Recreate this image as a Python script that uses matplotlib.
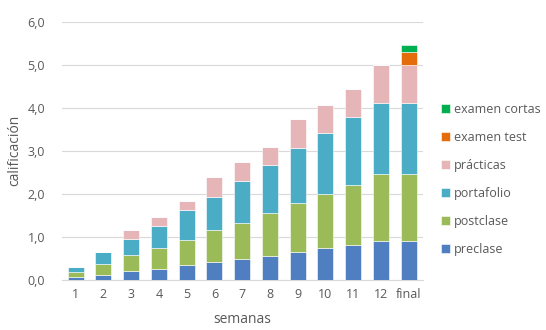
import numpy as np
import matplotlib
matplotlib.use('Agg')
import matplotlib.pyplot as plt

# datos (valores por componente, apilados)
semanas = ['1', '2', '3', '4', '5', '6', '7', '8', '9', '10', '11', '12', 'final']
preclase = [0.06, 0.11, 0.20, 0.26, 0.34, 0.42, 0.48, 0.56, 0.65, 0.74, 0.81, 0.90, 0.90]
postclase = [0.13, 0.25, 0.37, 0.48, 0.59, 0.74, 0.84, 1.00, 1.14, 1.26, 1.39, 1.56, 1.56]
portafolio = [0.12, 0.29, 0.38, 0.52, 0.70, 0.77, 0.98, 1.11, 1.28, 1.42, 1.59, 1.66, 1.66]
practicas = [0.00, 0.00, 0.20, 0.20, 0.20, 0.46, 0.43, 0.42, 0.67, 0.65, 0.65, 0.88, 0.88]
examen_test = [0, 0, 0, 0, 0, 0, 0, 0, 0, 0, 0, 0, 0.30]
examen_cortas = [0, 0, 0, 0, 0, 0, 0, 0, 0, 0, 0, 0, 0.16]

series = [
    ('preclase', preclase, '#4f7fc0'),
    ('postclase', postclase, '#9bbb59'),
    ('portafolio', portafolio, '#4bacc6'),
    ('prácticas', practicas, '#e6b5b7'),
    ('examen test', examen_test, '#e46c0a'),
    ('examen cortas', examen_cortas, '#00b050'),
]

plt.rcParams['font.family'] = ['Open Sans', 'DejaVu Sans']
gris = '#595959'

fig = plt.figure(figsize=(5.46, 3.30), dpi=100)
ax = fig.add_axes([0.113, 0.152, 0.661, 0.782])

x = np.arange(len(semanas))
base = np.zeros(len(semanas))
handles = []
for nombre, vals, color in series:
    vals = np.array(vals)
    b = ax.bar(x, vals, 0.58, bottom=base, color=color, label=nombre,
               edgecolor='white', linewidth=0.4, zorder=3)
    handles.append(b)
    base = base + vals

ax.set_ylim(0, 6)
ax.set_xlim(-0.5, len(semanas) - 0.5)
yt = np.arange(0, 7, 1)
ax.set_yticks(yt)
ax.set_yticklabels([('%.1f' % v).replace('.', ',') for v in yt])
ax.set_xticks(x)
ax.set_xticklabels(semanas)
ax.tick_params(axis='both', length=0, labelsize=9, colors=gris)
ax.tick_params(axis='y', pad=12)
ax.tick_params(axis='x', pad=6)
ax.grid(axis='y', color='#d9d9d9', linewidth=0.8, zorder=0)
for s in ['top', 'right', 'left']:
    ax.spines[s].set_visible(False)
ax.spines['bottom'].set_color('#d9d9d9')

ax.set_xlabel('semanas', fontsize=10, color=gris, labelpad=8)
ax.set_ylabel('calificación', fontsize=10, color=gris, labelpad=4)

leg = ax.legend(handles[::-1], [s[0] for s in series][::-1],
                loc='center left', bbox_to_anchor=(1.02, 0.39), frameon=False,
                fontsize=9, handlelength=0.7, handleheight=0.7,
                handletextpad=0.3, labelspacing=1.2)
for t in leg.get_texts():
    t.set_color(gris)

fig.savefig('out.png', dpi=100)
